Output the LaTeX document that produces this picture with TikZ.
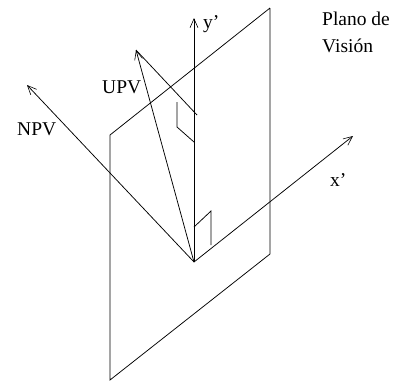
\documentclass[tikz,border=0pt]{standalone}
\usepackage{fontspec}
\setmainfont{Liberation Serif}
\usetikzlibrary{arrows.meta}
\tikzset{
  ln/.style={draw=black,line width=0.75pt},
  vec/.style={ln,-{Straight Barb[length=9pt,width=8pt,line width=0.6pt]}},
  lbl/.style={inner sep=0pt,anchor=base west,font=\fontsize{19.5}{19.5}\selectfont}
}
\begin{document}
\begin{tikzpicture}[x=1pt,y=-1pt]
\useasboundingbox (0,0) rectangle (394,384);
\coordinate (o) at (194,262);
\coordinate (tr) at (270,8);
\coordinate (tl) at (110,135);
\coordinate (bl) at (110,380);
\coordinate (br) at (270,254);
\coordinate (x) at (353,136);
\coordinate (y) at (194,18);
\coordinate (n) at (27,85);
\coordinate (u) at (136,50);
\coordinate (ue) at (197,115);
\coordinate (a1) at (177,102);
\coordinate (a2) at (177,127);
\coordinate (a3) at (194,142);
\coordinate (b1) at (194,227);
\coordinate (b2) at (211,211);
\coordinate (b3) at (211,245);
\draw[ln] (tr) -- (tl) -- (bl) -- (br) -- (tr);
\draw[vec] (o) -- (x);
\draw[vec] (o) -- (y);
\draw[vec] (o) -- (n);
\draw[vec] (o) -- (u);
\draw[ln] (u) -- (ue);
\draw[ln] (a1) -- (a2) -- (a3);
\draw[ln] (b1) -- (b2) -- (b3);
\node[lbl] (ly) at (203,28) {y’};
\node[lbl] (lu) at (102,93) {UPV};
\node[lbl] (ln) at (17,135) {NPV};
\node[lbl] (lx) at (330,186) {x’};
\node[lbl] (lp) at (322,25) {Plano de};
\node[lbl] (lv) at (322,52) {Visión};
\end{tikzpicture}
\end{document}
